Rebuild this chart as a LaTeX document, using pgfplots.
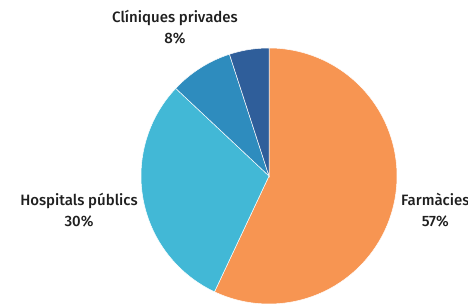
\documentclass[border=0pt]{standalone}
\usepackage{pgfplots}
\pgfplotsset{compat=1.18}
\usepackage{fontspec}
\setmainfont{Fira Sans}
\newfontfamily\lab{Fira Sans}[UprightFont={* Medium}]
\definecolor{cOrange}{HTML}{F79552}
\definecolor{cLight}{HTML}{42B8D6}
\definecolor{cMid}{HTML}{2E8CBE}
\definecolor{cDark}{HTML}{2F5E9A}
% slice values (percent)
\def\vA{57}\def\vB{30}\def\vC{8}\def\vD{5}
\pgfmathsetmacro{\aA}{90-3.6*\vA}
\pgfmathsetmacro{\aB}{\aA-3.6*\vB}
\pgfmathsetmacro{\aC}{\aB-3.6*\vC}
\pgfmathsetmacro{\aD}{\aC-3.6*\vD}
\begin{document}
\begin{tikzpicture}
\useasboundingbox (-141pt,-1pt) rectangle (327pt,304pt);
\begin{axis}[scale only axis, width=256pt, height=256pt, hide axis,
  xmin=-1, xmax=1, ymin=-1, ymax=1, clip=false,
  every axis plot/.append style={draw=white, line width=0.5pt, samples=120}]
\addplot[fill=cOrange, draw=white, domain=\aA:90] ({cos(x)},{sin(x)}) -- (axis cs:0,0) -- cycle;
\addplot[fill=cLight, draw=white, domain=\aB:\aA] ({cos(x)},{sin(x)}) -- (axis cs:0,0) -- cycle;
\addplot[fill=cMid, draw=white, domain=\aC:\aB] ({cos(x)},{sin(x)}) -- (axis cs:0,0) -- cycle;
\addplot[fill=cDark, draw=white, domain=\aD:\aC] ({cos(x)},{sin(x)}) -- (axis cs:0,0) -- cycle;
\end{axis}
\begin{scope}[every node/.style={font=\lab\fontsize{15}{21}\selectfont, align=center, text=black!88, inner sep=0pt}]
\node at (34pt,277pt) {Clíniques privades\\8\%};
\node at (-62pt,93.5pt) {Hospitals públics\\30\%};
\node[anchor=west] at (260pt,93.5pt) {Farmàcies\\57\%};
\end{scope}
\end{tikzpicture}
\end{document}
